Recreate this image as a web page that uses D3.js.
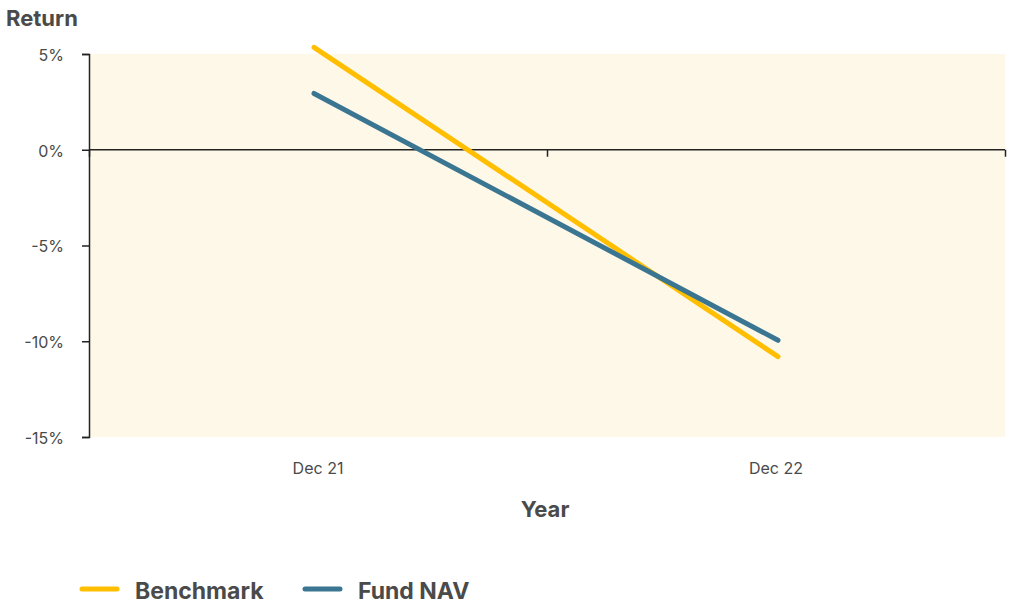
<!DOCTYPE html>
<html><head><meta charset="utf-8">
<script src="https://cdn.jsdelivr.net/npm/d3@7"></script>
<style>body{margin:0;background:#fff;}svg{display:block;font-family:Inter,"Open Sans",sans-serif;}</style>
</head><body><svg id="c" width="1011" height="605"></svg>
<script>
const categories = ["Dec 21", "Dec 22"];
const benchmark = [5.35, -10.8];
const fundNAV = [2.94, -9.95];
const yTicks = [5, 0, -5, -10, -15];
const seriesNames = ["Benchmark", "Fund NAV"];
const colors = ["#FFBE00", "#3A7591"];

(function () {
const svg = d3.select("#c");
const mL = 89, mR = 1005, mT = 54, mB = 437;
const x = d3.scaleBand().domain(categories).range([mL, mR]);
const y = d3.scaleLinear().domain([-15, 5]).range([mB, mT]);
const text = "#4a4a4a";
const ff = "Inter, sans-serif";

svg.append("rect").attr("x", mL).attr("y", mT).attr("width", mR - mL).attr("height", mB - mT).attr("fill", "#FEF8E9");

// y axis
const ya = svg.append("g").attr("transform", `translate(${mL},0)`)
  .call(d3.axisLeft(y).tickValues(yTicks).tickFormat(d => d + "%").tickSize(7).tickPadding(18));
ya.select(".domain").attr("stroke", "#222").attr("stroke-width", 1.5);
ya.selectAll(".tick line").attr("stroke", "#222").attr("stroke-width", 1.5);
ya.selectAll("text").attr("fill", text).style("font-size", "16px").style("font-family", ff).attr("dy", "0.4em");

// x zero line with ticks at band boundaries
const xa = svg.append("g").attr("transform", `translate(0,${y(0)})`)
  .call(d3.axisBottom(d3.scaleLinear().domain([0, categories.length]).range([mL, mR]))
    .tickValues(d3.range(categories.length + 1)).tickSize(7).tickFormat(""));
xa.select(".domain").attr("stroke", "#222").attr("stroke-width", 1.5).attr("d", `M${mL},0H${mR}`);
xa.selectAll(".tick line").attr("stroke", "#222").attr("stroke-width", 1.5);

// category labels at bottom
svg.append("g").selectAll("text").data(categories).join("text")
  .attr("x", d => x(d) + x.bandwidth() / 2).attr("y", 474).attr("text-anchor", "middle")
  .attr("fill", text).style("font-size", "16px").style("font-family", ff).text(d => d);

// titles
svg.append("text").attr("x", 6).attr("y", 26).attr("fill", text).style("font-size", "22px").style("font-weight", "bold").text("Return");
svg.append("text").attr("x", 545).attr("y", 517).attr("text-anchor", "middle").attr("fill", text).style("font-size", "22px").style("font-weight", "bold").text("Year");

// lines
const xp = d3.scalePoint().domain(categories).range([mL + x.bandwidth() / 2 - 4, mR - x.bandwidth() / 2 + 2]);
const line = d3.line().x((d, i) => xp(categories[i])).y(d => y(d));
[benchmark, fundNAV].forEach((s, i) => {
  svg.append("path").datum(s).attr("d", line).attr("fill", "none").attr("stroke", colors[i])
    .attr("stroke-width", 5).attr("stroke-linecap", "round");
});

// legend
const lg = svg.append("g");
const lx = [82, 305];
seriesNames.forEach((n, i) => {
  lg.append("line").attr("x1", lx[i]).attr("x2", lx[i] + 35).attr("y1", 589).attr("y2", 589)
    .attr("stroke", colors[i]).attr("stroke-width", 5).attr("stroke-linecap", "round");
  lg.append("text").attr("x", lx[i] + 53).attr("y", 599).attr("fill", text)
    .style("font-size", "23px").style("font-weight", "bold").text(n);
});
})();
</script></body></html>
